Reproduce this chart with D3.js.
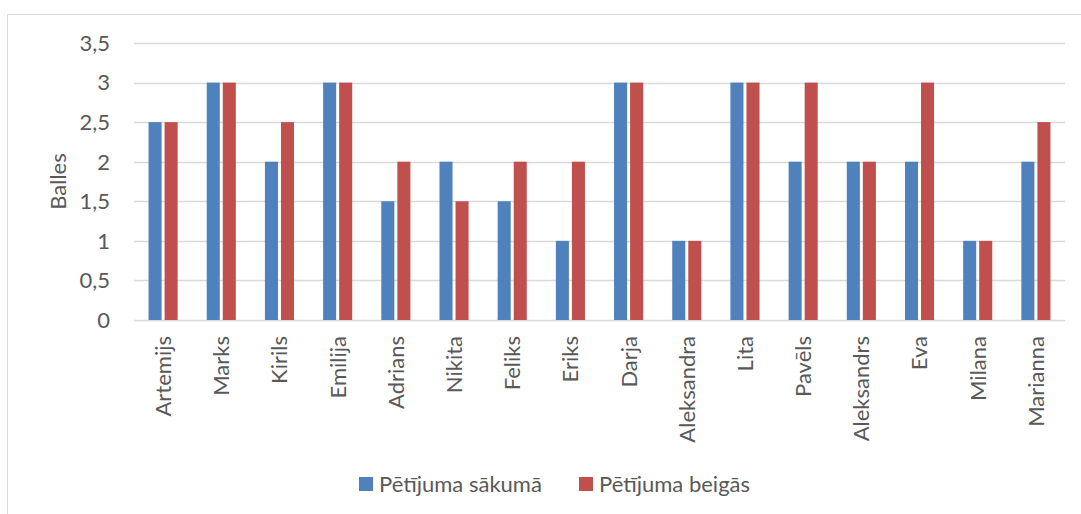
<!DOCTYPE html>
<html>
<head>
<meta charset="utf-8">
<script src="https://cdn.jsdelivr.net/npm/d3@7"></script>
<style>
  body { margin: 0; background: #fff; }
  text { font-family: Lato, "Open Sans", sans-serif; fill: #595959; }
</style>
</head>
<body>
<svg id="chart" width="1081" height="514"></svg>
<script>
// chart data
var names = ["Artemijs", "Marks", "Kirils", "Emilija", "Adrians", "Nikita", "Feliks", "Eriks",
  "Darja", "Aleksandra", "Lita", "Pavēls", "Aleksandrs", "Eva", "Milana", "Marianna"];
var seriesNames = ["Pētījuma sākumā", "Pētījuma beigās"];
var startValues = [2.5, 3, 2, 3, 1.5, 2, 1.5, 1, 3, 1, 3, 2, 2, 2, 1, 2];
var endValues = [2.5, 3, 2.5, 3, 2, 1.5, 2, 2, 3, 1, 3, 3, 2, 3, 1, 2.5];
var yTicks = [0, 0.5, 1, 1.5, 2, 2.5, 3, 3.5];
var colors = ["#4F81BD", "#C0504D"];

var svg = d3.select("#chart");

// outer chart border (runs off the right and bottom edge)
svg.append("rect")
  .attr("x", 7.5).attr("y", 14.5)
  .attr("width", 1100).attr("height", 520)
  .attr("fill", "none").attr("stroke", "#d9d9d9");

var plotLeft = 134, plotRight = 1065, plotTop = 43, plotBottom = 320;

var x0 = d3.scaleBand().domain(names).range([plotLeft, plotRight]).paddingInner(0.5).paddingOuter(0.25);
var x1 = d3.scaleBand().domain([0, 1]).range([0, x0.bandwidth()]).paddingInner(0.1875);
var y = d3.scaleLinear().domain([0, 3.5]).range([plotBottom, plotTop]);

var fmt = function(d) { return String(d).replace(".", ","); };

// gridlines
svg.append("g").selectAll("line")
  .data(yTicks)
  .enter().append("line")
  .attr("x1", plotLeft).attr("x2", plotRight)
  .attr("y1", function(d) { return Math.round(y(d)) + 0.5; })
  .attr("y2", function(d) { return Math.round(y(d)) + 0.5; })
  .attr("stroke", "#d9d9d9").attr("stroke-width", 1.3);

// y labels
svg.append("g").selectAll("text")
  .data(yTicks)
  .enter().append("text")
  .attr("x", 110)
  .attr("y", function(d) { return y(d); })
  .attr("dy", "0.36em")
  .attr("text-anchor", "end")
  .style("font-size", "22px")
  .text(fmt);

// bars
var data = names.map(function(n, i) { return { name: n, vals: [startValues[i], endValues[i]] }; });
var groups = svg.append("g").selectAll("g")
  .data(data)
  .enter().append("g")
  .attr("transform", function(d) { return "translate(" + x0(d.name) + ",0)"; });

groups.selectAll("rect")
  .data(function(d) { return d.vals; })
  .enter().append("rect")
  .attr("x", function(d, i) { return x1(i); })
  .attr("y", function(d) { return y(d); })
  .attr("width", x1.bandwidth())
  .attr("height", function(d) { return y(0) - y(d); })
  .attr("fill", function(d, i) { return colors[i]; });

// category labels
svg.append("g").selectAll("text")
  .data(names)
  .enter().append("text")
  .attr("transform", function(d) {
    return "translate(" + (x0(d) + x0.bandwidth() / 2) + ",336) rotate(-90)";
  })
  .attr("dy", "0.36em")
  .attr("text-anchor", "end")
  .style("font-size", "22px")
  .text(function(d) { return d; });

// y axis title
svg.append("text")
  .attr("transform", "translate(58," + ((plotTop + plotBottom) / 2) + ") rotate(-90)")
  .attr("dy", "0.36em")
  .attr("text-anchor", "middle")
  .style("font-size", "22px")
  .text("Balles");

// legend
var legendX = [359, 579];
seriesNames.forEach(function(s, i) {
  svg.append("rect")
    .attr("x", legendX[i]).attr("y", 477)
    .attr("width", 14).attr("height", 14)
    .attr("fill", colors[i]);
  svg.append("text")
    .attr("x", legendX[i] + 20).attr("y", 484)
    .attr("dy", "0.36em")
    .style("font-size", "22px")
    .text(s);
});
</script>
</body>
</html>
